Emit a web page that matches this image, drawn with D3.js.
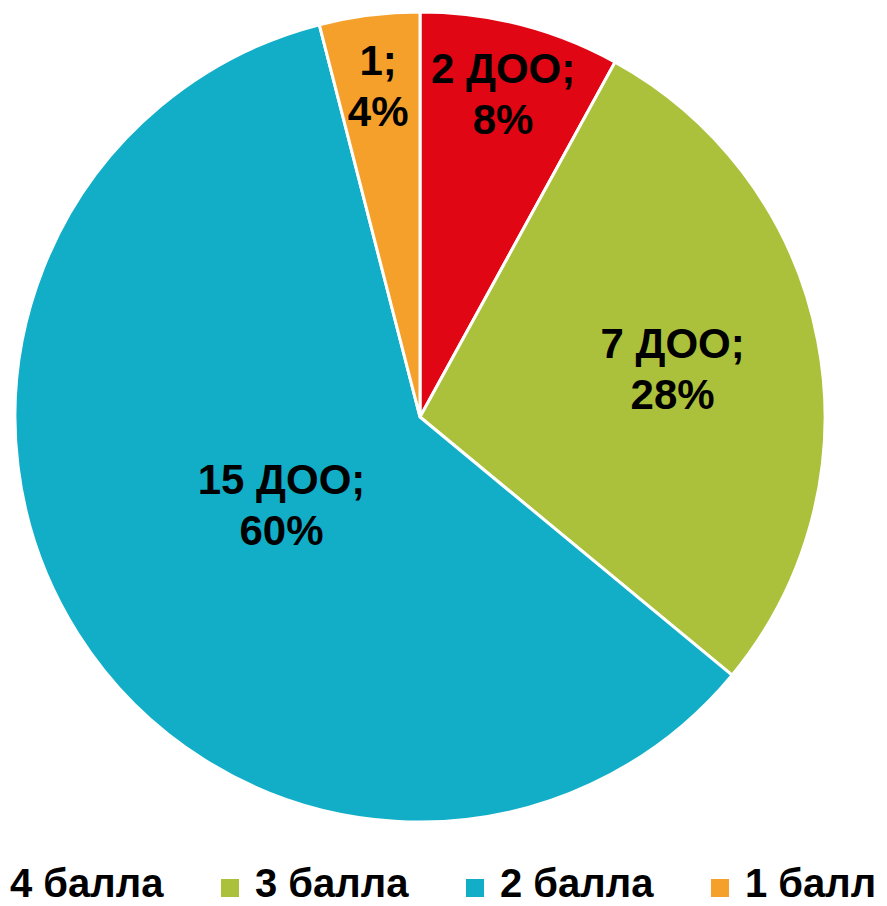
<!DOCTYPE html>
<html><head><meta charset="utf-8">
<script src="https://cdn.jsdelivr.net/npm/d3@7"></script>
<style>html,body{margin:0;padding:0;background:#fff;overflow:hidden}</style>
</head><body>
<svg id="chart" width="887" height="906"></svg>
<script>
const categories = ["4 балла", "3 балла", "2 балла", "1 балл"];
const counts = [2, 7, 15, 1];
const countLabels = ["2 ДОО;", "7 ДОО;", "15 ДОО;", "1;"];
const percents = ["8%", "28%", "60%", "4%"];
const colors = ["#E10613", "#ABC13B", "#12AEC8", "#F4A02A"];

const W = 887, H = 906;
const cx = 420, cy = 417, R = 405;
const svg = d3.select("#chart");
const g = svg.append("g").attr("transform", `translate(${cx},${cy})`);

const pie = d3.pie().sort(null).value(d => d)(counts);
const arc = d3.arc().innerRadius(0).outerRadius(R);

g.selectAll("path.slice").data(pie).join("path")
  .attr("class", "slice")
  .attr("d", arc)
  .attr("fill", (d, i) => colors[i])
  .attr("stroke", "#fff").attr("stroke-width", 3).attr("stroke-linejoin", "round");

// best-fit style: narrow slices push label outward, large slices pull inward
function labelRadius(d) {
  const a = (d.endAngle - d.startAngle) * 180 / Math.PI;
  if (a < 40) return 0.825 * R;
  if (a < 150) return 0.635 * R;
  return 0.405 * R;
}
const fs = 42, lh = 51, cap = 30;
const labels = g.selectAll("text.lbl").data(pie).join("text")
  .attr("class", "lbl")
  .attr("text-anchor", "middle")
  .attr("font-family", "'Liberation Sans', Arial, sans-serif")
  .attr("font-weight", "bold")
  .attr("font-size", fs)
  .attr("fill", "#000")
  .each(function(d, i) {
    const r = labelRadius(d);
    const c = d3.arc().innerRadius(r).outerRadius(r).centroid(d);
    const t = d3.select(this);
    const top = c[1] - (cap + lh) / 2;
    t.append("tspan").attr("x", c[0]).attr("y", top + cap).text(countLabels[i]);
    t.append("tspan").attr("x", c[0]).attr("y", top + cap + lh).text(percents[i]);
  });

// legend
const legX = d3.scaleLinear().domain([0, 1]).range([-24, 221]);
const leg = svg.append("g").selectAll("g").data(categories).join("g")
  .attr("transform", (d, i) => `translate(${legX(i)},0)`);
leg.append("rect").attr("x", 0).attr("y", 879).attr("width", 18).attr("height", 18)
  .attr("fill", (d, i) => colors[i]);
leg.append("text").attr("x", 34).attr("y", 897)
  .attr("font-family", "'Liberation Sans', Arial, sans-serif")
  .attr("font-weight", "bold").attr("font-size", 40).attr("fill", "#000")
  .text(d => d);
</script>
</body></html>
